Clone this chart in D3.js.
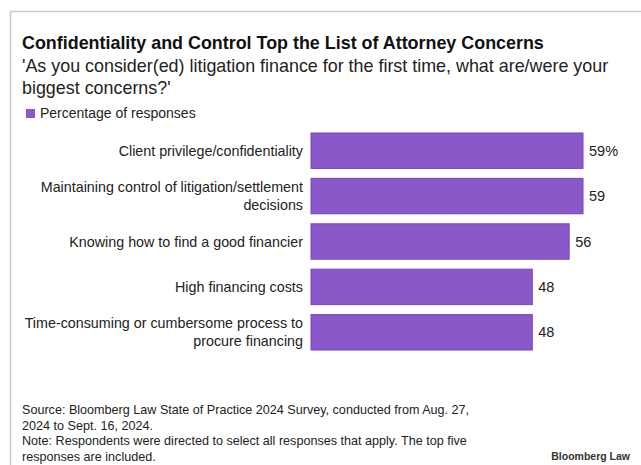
<!DOCTYPE html>
<html>
<head>
<meta charset="utf-8">
<script src="https://cdn.jsdelivr.net/npm/d3@7"></script>
<style>
  html, body { margin: 0; padding: 0; background: #fff; }
  svg { display: block; font-family: "Liberation Sans", Arial, Helvetica, sans-serif; }
</style>
</head>
<body>
<svg id="chart" width="641" height="465"></svg>
<script>
// Survey responses: share of attorneys citing each concern
const categories = [
  ["Client privilege/confidentiality"],
  ["Maintaining control of litigation/settlement", "decisions"],
  ["Knowing how to find a good financier"],
  ["High financing costs"],
  ["Time-consuming or cumbersome process to", "procure financing"]
];
const values = [59, 59, 56, 48, 48];
const valueLabels = ["59%", "59", "56", "48", "48"];

const titleText = "Confidentiality and Control Top the List of Attorney Concerns";
const subtitleLines = [
  "'As you consider(ed) litigation finance for the first time, what are/were your",
  "biggest concerns?'"
];
const legendText = "Percentage of responses";
const footerLines = [
  "Source: Bloomberg Law State of Practice 2024 Survey, conducted from Aug. 27,",
  "2024 to Sept. 16, 2024.",
  "Note: Respondents were directed to select all responses that apply. The top five",
  "responses are included."
];
const creditText = "Bloomberg Law";

const barColor = "#8a58c8";
const barEdge = "#7446c0";

const svg = d3.select("#chart");
const W = 641, H = 465;

// frame
svg.append("path")
  .attr("d", `M10.5,${H} V11.5 H${W}`)
  .attr("fill", "none")
  .attr("stroke", "#c9c9c9")
  .attr("stroke-width", 1.5);

// headings
svg.append("text")
  .attr("x", 22).attr("y", 49)
  .attr("font-size", 17.9).attr("font-weight", "bold").attr("fill", "#111")
  .text(titleText);

svg.append("g").selectAll("text").data(subtitleLines).join("text")
  .attr("x", 22).attr("y", (d, i) => 72 + i * 22)
  .attr("font-size", 17.9).attr("fill", "#222")
  .text(d => d);

// legend
svg.append("rect").attr("x", 26).attr("y", 109).attr("width", 9).attr("height", 9).attr("fill", barColor);
svg.append("text").attr("x", 40).attr("y", 118)
  .attr("font-size", 14).attr("fill", "#222").text(legendText);

// scales
const x = d3.scaleLinear().domain([0, 59]).range([311, 583]);
const y = d3.scaleBand().domain(d3.range(values.length)).range([128, 355]).paddingInner(0.22).paddingOuter(0.11);

const rows = svg.append("g").selectAll("g").data(values).join("g");

rows.append("rect")
  .attr("x", x(0))
  .attr("y", (d, i) => y(i))
  .attr("width", d => x(d) - x(0))
  .attr("height", y.bandwidth())
  .attr("fill", barColor)
  .attr("stroke", barEdge)
  .attr("stroke-width", 1);

rows.append("text")
  .attr("x", d => x(d) + 6)
  .attr("y", (d, i) => y(i) + y.bandwidth() / 2 + 5)
  .attr("font-size", 14.5).attr("fill", "#222")
  .text((d, i) => valueLabels[i]);

rows.each(function (d, i) {
  const lines = categories[i];
  const cy = y(i) + y.bandwidth() / 2;
  d3.select(this).selectAll("text.cat").data(lines).join("text")
    .attr("class", "cat")
    .attr("x", 303)
    .attr("y", (t, j) => cy + 5 + (j - (lines.length - 1) / 2) * 18)
    .attr("text-anchor", "end")
    .attr("font-size", 14.3).attr("fill", "#222")
    .text(t => t);
});

// footer
svg.append("g").selectAll("text").data(footerLines).join("text")
  .attr("x", 22).attr("y", (d, i) => 414 + i * 15.5)
  .attr("font-size", 12.6).attr("fill", "#222")
  .text(d => d);

svg.append("text").attr("x", 630).attr("y", 460).attr("text-anchor", "end")
  .attr("font-size", 10.5).attr("font-weight", "bold").attr("fill", "#333").text(creditText);
</script>
</body>
</html>
